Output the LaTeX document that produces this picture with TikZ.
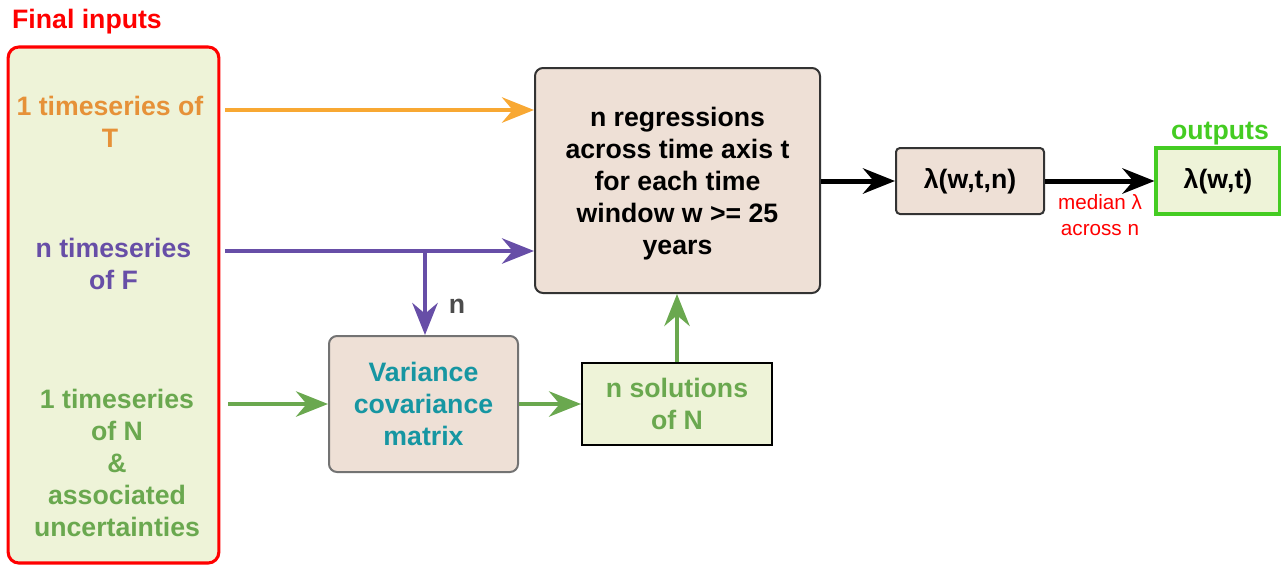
\documentclass[tikz,border=0pt]{standalone}
\usepackage{fontspec}
\setmainfont{Liberation Sans}
\usetikzlibrary{arrows.meta,positioning,calc}
\definecolor{tcolor}{RGB}{230,145,56}
\definecolor{tline}{RGB}{248,168,51}
\definecolor{fcolor}{RGB}{103,78,167}
\definecolor{ncolor}{RGB}{106,168,79}
\definecolor{vcolor}{RGB}{22,150,162}
\definecolor{boxfill}{RGB}{238,224,214}
\definecolor{infill}{RGB}{238,243,216}
\definecolor{outgreen}{RGB}{68,204,34}

\begin{document}
\begin{tikzpicture}[x=0.75pt, y=-0.75pt,
    every node/.style={font=\fontsize{20}{24}\selectfont\bfseries, align=center, inner sep=0pt},
    procbox/.style={draw=black!80, line width=1.5pt, fill=boxfill, rounded corners=6pt},
    solbox/.style={draw=black, line width=1.5pt, fill=infill},
    arr/.style={line width=3pt, -{Stealth[length=24pt,width=19pt,inset=8pt]}}]
    \useasboundingbox (0,0) rectangle (1281,565);
    % Input panel
    \node[text=red, anchor=center] (title) at (87,22) {Final inputs};
    \node[draw=red, line width=2.3pt, fill=infill, rounded corners=8pt,
          minimum width=158pt, minimum height=387pt] (inp) at (113.5,305) {};
    \node[text=tcolor] (tser) at (110,122) {1 timeseries of\\T};
    \node[text=fcolor] (fser) at (113.5,264) {n timeseries\\of F};
    \node[text=ncolor] (nser) at (117,463) {1 timeseries\\of N\\\&\\associated\\uncertainties};
    % Processing boxes
    \node[procbox, minimum width=213.75pt, minimum height=168.75pt] (reg) at (677.5,180.5) {};
    \node[anchor=center] (regtext) at (677.5,184)
      {n regressions\\across time axis t\\for each time\\window w >= 25\\years};
    \node[procbox, draw=black!55, text=vcolor, minimum width=141.75pt, minimum height=102pt] (vcm) at (423.5,404)
      {Variance\\covariance\\matrix};
    \node[solbox, text=ncolor, minimum width=142.5pt, minimum height=61.5pt] (sol) at (677,404)
      {n solutions\\of N};
    \node[procbox, rounded corners=3pt, minimum width=111pt, minimum height=49.5pt] (lam) at (970,181)
      {λ(w,t,n)};
    \node[draw=outgreen, line width=2.3pt, fill=infill, minimum width=93pt, minimum height=49.5pt] (lamout) at (1218,181)
      {λ(w,t)};
    \node[text=outgreen] (outlab) at (1220,134) {outputs};
    % Arrow start points beside the input panel
    \coordinate (tstart) at (225,110);
    \coordinate (fstart) at (225,251);
    \coordinate (nstart) at (228,404);
    \coordinate (fsplit) at (425,251);
    % Connectors
    \draw[arr, tline] (tstart) -- (reg.west |- tstart);
    \draw[arr, fcolor] (fstart) -- (reg.west |- fstart);
    \draw[arr, fcolor] (fsplit) -- (fsplit |- vcm.north);
    \node[text=black!70] (nlab) at (457,306) {n};
    \draw[arr, ncolor] (nstart) -- (vcm.west);
    \draw[arr, ncolor] (vcm.east) -- (sol.west);
    \draw[arr, ncolor] (sol.north) -- (sol.north |- reg.south);
    \draw[arr, black, line width=3.75pt] (reg.east |- lam) -- (lam.west);
    \draw[arr, black, line width=3.75pt] (lam.east) -- (lamout.west);
    \node[text=red, font=\fontsize{15.5}{19}\selectfont] (medlab) at (1100,215) {median λ\\across n};
\end{tikzpicture}
\end{document}
